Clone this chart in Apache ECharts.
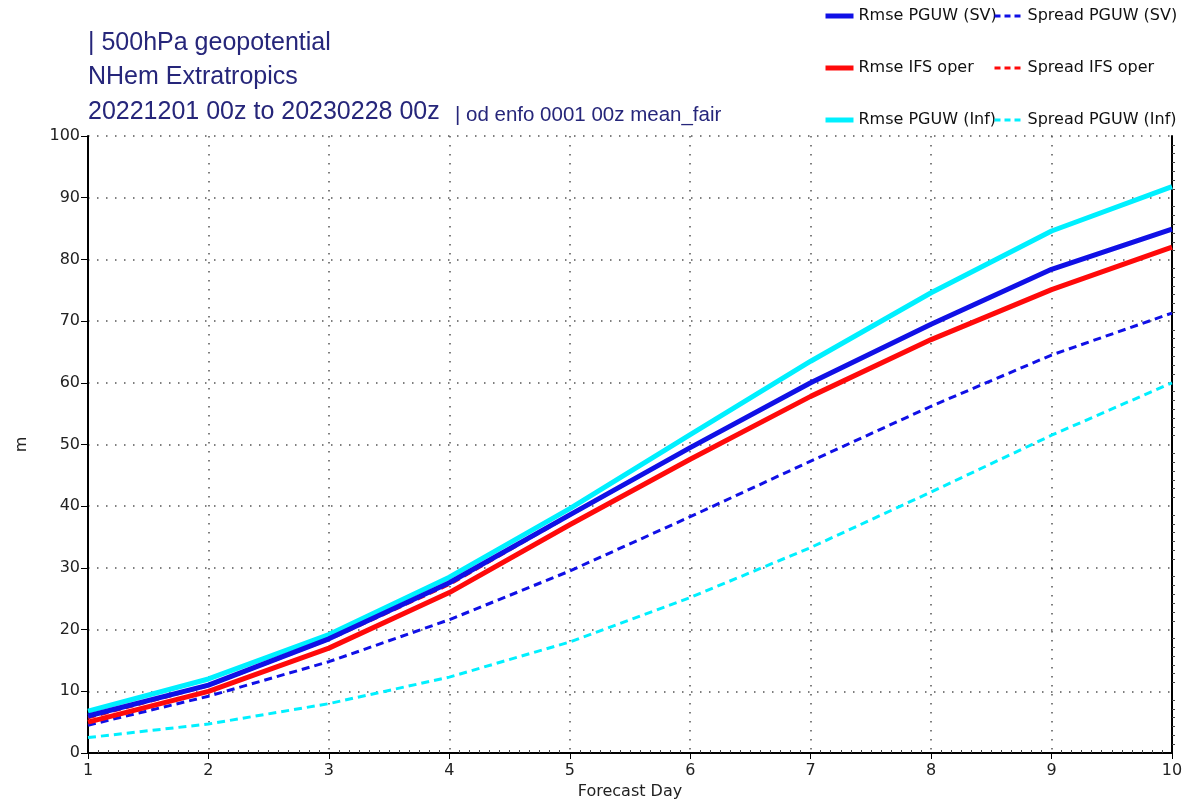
<!DOCTYPE html>
<html>
<head>
<meta charset="utf-8">
<script src="https://cdn.jsdelivr.net/npm/echarts@6/dist/echarts.min.js"></script>
<style>
  html, body { margin: 0; padding: 0; background: #fff; }
  #chart { width: 1201px; height: 801px; }
</style>
</head>
<body>
<div id="chart"></div>
<script>
// forecast days
const days = [1, 2, 3, 4, 5, 6, 7, 8, 9, 10];

// values (m)
const rmseSV = [6.0, 11.0, 18.5, 27.6, 38.6, 49.5, 60.0, 69.5, 78.4, 84.9];
const spreadSV = [4.5, 9.2, 14.8, 21.6, 29.5, 38.3, 47.3, 56.2, 64.5, 71.3];
const rmseIFS = [5.0, 10.0, 17.0, 26.0, 37.0, 47.6, 57.8, 67.0, 75.1, 82.0];
const spreadIFS = [5.7, 10.9, 18.4, 27.3, 38.5, 49.5, 60.0, 69.5, 78.4, 84.9];
const rmseInf = [6.8, 12.0, 19.2, 28.5, 39.6, 51.6, 63.5, 74.6, 84.6, 91.8];
const spreadInf = [2.5, 4.7, 8.0, 12.3, 18.0, 25.2, 33.3, 42.3, 51.5, 60.0];

const chart = echarts.init(document.getElementById('chart'));

const pairs = (vals) => days.map((d, i) => [d, vals[i]]);

function line(name, vals, color, dashed, z) {
  return {
    name: name,
    type: 'line',
    data: pairs(vals),
    symbol: 'none',
    z: z,
    lineStyle: {
      color: color,
      width: dashed ? 3 : 5,
      type: dashed ? [8, 5] : 'solid'
    },
    itemStyle: { color: color }
  };
}

const titleColor = '#26267a';
const titleFont = { fontFamily: 'Liberation Sans', fontSize: 25, fontWeight: 'normal', color: titleColor };
const legendText = { fontFamily: 'DejaVu Sans', fontSize: 16, color: '#111' };
const tickFont = { fontFamily: 'DejaVu Sans', fontSize: 16, color: '#222' };

chart.setOption({
  animation: false,
  backgroundColor: '#fff',
  title: [
    { text: '| 500hPa geopotential', left: 83, top: 26, textStyle: titleFont },
    { text: 'NHem Extratropics', left: 83, top: 60, textStyle: titleFont },
    { text: '20221201 00z to 20230228 00z', left: 83, top: 95, textStyle: titleFont },
    {
      text: '| od enfo 0001 00z mean_fair',
      left: 450, top: 100,
      textStyle: { fontFamily: 'Liberation Sans', fontSize: 20.5, fontWeight: 'normal', color: titleColor }
    }
  ],
  legend: [
    {
      orient: 'vertical',
      left: 818, top: 3,
      itemWidth: 28, itemHeight: 14, itemGap: 36,
      itemStyle: { opacity: 0 },
      lineStyle: { width: 5 },
      textStyle: legendText,
      data: ['Rmse PGUW (SV)', 'Rmse IFS oper', 'Rmse PGUW (Inf)']
    },
    {
      orient: 'vertical',
      left: 988, top: 3,
      itemWidth: 28, itemHeight: 14, itemGap: 36,
      itemStyle: { opacity: 0 },
      lineStyle: { width: 3, type: [6, 4] },
      textStyle: legendText,
      data: ['Spread PGUW (SV)', 'Spread IFS oper', 'Spread PGUW (Inf)']
    }
  ],
  grid: { left: 88, right: 29, top: 136, bottom: 48, outerBoundsMode: 'none', containLabel: false },
  xAxis: [
    {
      type: 'value',
      min: 1, max: 10, interval: 1,
      name: 'Forecast Day',
      nameLocation: 'middle',
      nameGap: 29,
      nameTextStyle: tickFont,
      axisLine: { lineStyle: { color: '#000', width: 2 } },
      axisTick: { show: true, length: 6, lineStyle: { color: '#000' } },
      axisLabel: Object.assign({ margin: 10 }, tickFont),
      splitLine: { show: true, lineStyle: { color: '#555', width: 1.5, type: [1.5, 7.5] } }
    },
    {
      type: 'value',
      position: 'top',
      min: 1, max: 10, interval: 1,
      axisLine: { show: true, lineStyle: { color: '#000', width: 2 } },
      axisTick: { show: false },
      minorTick: { show: true, splitNumber: 12, length: 3, lineStyle: { color: '#444' } },
      axisLabel: { show: false },
      splitLine: { show: false }
    }
  ],
  yAxis: [
    {
      type: 'value',
      min: 0, max: 100, interval: 10,
      name: 'm',
      nameLocation: 'middle',
      nameGap: 58,
      nameRotate: 90,
      nameTextStyle: tickFont,
      axisLine: { show: true, lineStyle: { color: '#000', width: 2 } },
      axisTick: { show: true, length: 7, lineStyle: { color: '#000' } },
      axisLabel: Object.assign({ margin: 8 }, tickFont),
      splitLine: { show: true, lineStyle: { color: '#555', width: 1.5, type: [1.5, 7.5] } }
    },
    {
      type: 'value',
      position: 'right',
      min: 0, max: 100, interval: 10,
      axisLine: { show: true, lineStyle: { color: '#000', width: 2 } },
      axisTick: { show: false },
      minorTick: { show: true, splitNumber: 7, length: 3, lineStyle: { color: '#444' } },
      axisLabel: { show: false },
      splitLine: { show: false }
    }
  ],
  series: [
    line('Spread PGUW (Inf)', spreadInf, '#00f0ff', true, 2),
    line('Spread PGUW (SV)', spreadSV, '#1010e6', true, 3),
    line('Rmse PGUW (Inf)', rmseInf, '#00f0ff', false, 4),
    line('Rmse IFS oper', rmseIFS, '#ff0a0a', false, 5),
    line('Spread IFS oper', spreadIFS, '#ff0a0a', true, 6),
    line('Rmse PGUW (SV)', rmseSV, '#1010e6', false, 7)
  ]
});
</script>
</body>
</html>
